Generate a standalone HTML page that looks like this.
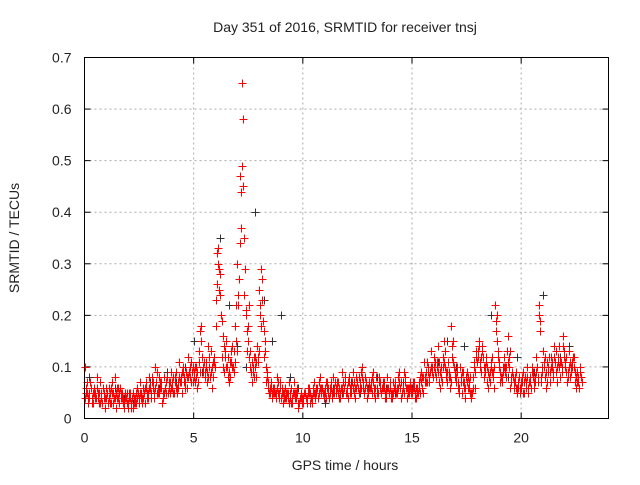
<!DOCTYPE html>
<html><head><meta charset="utf-8"><style>
body{margin:0;background:#fff;}
svg text{font-family:"Liberation Sans",sans-serif;font-size:14px;fill:#222;}
</style></head><body>
<svg id="chart" width="640" height="480" xmlns="http://www.w3.org/2000/svg">
<text x="345" y="32" text-anchor="middle">Day 351 of 2016, SRMTID for receiver tnsj</text>
<text x="345" y="470" text-anchor="middle">GPS time / hours</text>
<text transform="translate(19,238) rotate(-90)" text-anchor="middle">SRMTID / TECUs</text>
<g id="grid"></g>
<g id="ticks"></g>
<g id="grey"></g>
<g id="red"></g>
<rect x="84.5" y="57.5" width="524" height="361" fill="none" stroke="#000" stroke-width="1"/>
</svg>
<script>
const xTicks=[0,5,10,15,20];
const yTicks=[0,0.1,0.2,0.3,0.4,0.5,0.6,0.7];
const yTickLabels=["0","0.1","0.2","0.3","0.4","0.5","0.6","0.7"];
const redA=[0.10,0.05,0.04,0.06,0.03,0.05,0.04,0.07,0.03,0.05,
0.04,0.06,0.03,0.05,0.08,0.04,0.03,0.05,0.02,0.04,
0.03,0.05,0.02,0.04,0.06,0.03,0.05,0.04,0.07,0.05,
0.06,0.08,0.04,0.09,0.05,0.07,0.04,0.06,0.08,0.05,
0.07,0.05,0.09,0.06,0.08,0.10,0.07,0.06,0.09,0.11,
0.08,0.10,0.07,0.17,0.12,0.09,0.07,0.10,0.13,0.08,
0.23,0.33,0.28,0.12,0.09,0.15,0.07,0.13,0.10,0.18,
0.30,0.47,0.65,0.35,0.20,0.15,0.10,0.09,0.12,0.14,
0.25,0.29,0.17,0.10,0.07,0.05,0.04,0.06,0.08,0.05,
0.04,0.03,0.06,0.04,0.05,0.03,0.07,0.04,0.02,0.05,
0.03,0.05,0.04,0.06,0.03,0.07,0.05,0.04,0.08,0.06,
0.05,0.07,0.04,0.06,0.08,0.05,0.07,0.04,0.09,0.06,
0.06,0.08,0.05,0.09,0.04,0.07,0.06,0.10,0.05,0.07,
0.05,0.07,0.09,0.04,0.06,0.08,0.05,0.07,0.04,0.06,
0.06,0.04,0.07,0.05,0.09,0.04,0.06,0.08,0.05,0.07,
0.05,0.07,0.04,0.06,0.09,0.05,0.08,0.11,0.07,0.10,
0.12,0.08,0.14,0.06,0.10,0.13,0.07,0.09,0.18,0.11,
0.08,0.06,0.10,0.05,0.07,0.09,0.06,0.04,0.08,0.06,
0.13,0.11,0.14,0.08,0.12,0.06,0.10,0.09,0.22,0.15,
0.10,0.07,0.12,0.08,0.16,0.06,0.09,0.07,0.05,0.08,
0.06,0.09,0.07,0.05,0.08,0.10,0.06,0.12,0.22,0.07,
0.13,0.08,0.11,0.07,0.10,0.14,0.09,0.12,0.08,0.16,
0.10,0.07,0.13,0.09,0.12,0.06,0.08,0.10];
const redB=[0.06,0.03,0.07,0.04,0.05,0.08,0.03,0.04,0.06,0.02,
0.05,0.03,0.07,0.04,0.02,0.06,0.05,0.03,0.04,0.03,
0.05,0.02,0.04,0.03,0.05,0.07,0.03,0.06,0.04,0.08,
0.04,0.06,0.10,0.05,0.07,0.03,0.08,0.05,0.06,0.09,
0.05,0.08,0.06,0.11,0.05,0.07,0.09,0.12,0.08,0.07,
0.10,0.06,0.13,0.18,0.09,0.11,0.14,0.08,0.06,0.12,
0.32,0.25,0.20,0.16,0.13,0.08,0.11,0.14,0.09,0.22,
0.24,0.44,0.58,0.29,0.13,0.22,0.07,0.12,0.08,0.11,
0.20,0.27,0.13,0.08,0.05,0.07,0.06,0.04,0.05,0.07,
0.06,0.05,0.04,0.07,0.03,0.05,0.04,0.06,0.04,0.03,
0.05,0.04,0.06,0.03,0.05,0.04,0.06,0.07,0.05,0.04,
0.07,0.05,0.06,0.04,0.05,0.07,0.04,0.06,0.05,0.08,
0.04,0.06,0.07,0.05,0.08,0.05,0.09,0.06,0.08,0.04,
0.07,0.05,0.06,0.08,0.05,0.07,0.06,0.04,0.08,0.05,
0.04,0.07,0.05,0.08,0.06,0.05,0.09,0.04,0.06,0.05,
0.07,0.04,0.06,0.08,0.06,0.11,0.07,0.09,0.13,0.08,
0.09,0.11,0.07,0.10,0.15,0.08,0.11,0.06,0.12,0.08,
0.10,0.05,0.07,0.09,0.04,0.06,0.08,0.05,0.10,0.12,
0.15,0.09,0.12,0.10,0.07,0.09,0.12,0.06,0.19,0.12,
0.07,0.09,0.10,0.13,0.10,0.08,0.06,0.09,0.07,0.05,
0.08,0.05,0.10,0.07,0.06,0.09,0.08,0.07,0.19,0.10,
0.10,0.06,0.09,0.12,0.08,0.11,0.07,0.14,0.10,0.13,
0.12,0.09,0.08,0.11,0.07,0.09,0.06];
const redC=[0.04,0.07,0.05,0.03,0.06,0.04,0.05,0.03,0.06,0.04,
0.05,0.04,0.06,0.03,0.05,0.04,0.06,0.04,0.03,0.05,
0.04,0.03,0.05,0.03,0.04,0.05,0.04,0.05,0.06,0.04,
0.05,0.07,0.06,0.05,0.08,0.06,0.05,0.07,0.05,0.07,
0.06,0.07,0.05,0.08,0.07,0.09,0.06,0.08,0.10,0.09,
0.09,0.08,0.11,0.15,0.10,0.08,0.09,0.12,0.10,0.11,
0.18,0.30,0.24,0.10,0.12,0.10,0.09,0.11,0.13,0.15,
0.22,0.34,0.49,0.24,0.17,0.12,0.09,0.10,0.10,0.12,
0.22,0.23,0.12,0.07,0.06,0.06,0.05,0.05,0.06,0.04,
0.05,0.04,0.05,0.05,0.04,0.04,0.05,0.05,0.03,0.04,
0.04,0.04,0.05,0.05,0.04,0.05,0.06,0.05,0.06,0.05,
0.06,0.06,0.05,0.05,0.06,0.06,0.05,0.05,0.07,0.07,
0.05,0.07,0.06,0.07,0.06,0.06,0.07,0.08,0.06,0.06,
0.06,0.06,0.07,0.06,0.05,0.06,0.06,0.06,0.05,0.05,
0.05,0.05,0.06,0.06,0.07,0.05,0.05,0.06,0.06,0.06,
0.06,0.05,0.05,0.07,0.07,0.08,0.09,0.10,0.09,0.09,
0.10,0.10,0.11,0.08,0.12,0.10,0.09,0.08,0.14,0.10,
0.07,0.07,0.08,0.07,0.06,0.07,0.07,0.05,0.11,0.13,
0.12,0.10,0.13,0.09,0.10,0.08,0.11,0.08,0.17,0.13,
0.09,0.08,0.10,0.10,0.12,0.07,0.08,0.08,0.06,0.06,
0.07,0.07,0.06,0.06,0.07,0.08,0.07,0.10,0.20,0.08,
0.11,0.09,0.10,0.09,0.11,0.12,0.10,0.10,0.11,0.14,
0.11,0.08,0.11,0.10,0.10,0.08,0.07,0.08];
const redD=[0.05,0.04,0.06,0.05,0.04,0.06,0.05,0.05,0.04,0.06,
0.03,0.05,0.05,0.04,0.06,0.05,0.04,0.04,0.05,0.02,
0.04,0.04,0.03,0.05,0.04,0.04,0.06,0.03,0.05,0.06,
0.07,0.05,0.07,0.06,0.06,0.05,0.06,0.08,0.07,0.06,
0.08,0.06,0.07,0.07,0.09,0.08,0.08,0.09,0.07,0.10,
0.07,0.09,0.09,0.12,0.11,0.10,0.08,0.09,0.11,0.10,
0.26,0.29,0.19,0.14,0.10,0.12,0.08,0.10,0.11,0.13,
0.27,0.37,0.45,0.21,0.18,0.13,0.11,0.08,0.11,0.13,
0.18,0.19,0.15,0.09,0.06,0.05,0.05,0.05,0.07,0.06,
0.05,0.04,0.05,0.03,0.06,0.05,0.05,0.03,0.04,0.04,
0.05,0.03,0.05,0.04,0.06,0.05,0.04,0.06,0.06,0.05,
0.04,0.06,0.07,0.05,0.07,0.06,0.06,0.06,0.06,0.05,
0.07,0.05,0.06,0.06,0.07,0.08,0.06,0.07,0.07,0.05,
0.06,0.08,0.05,0.05,0.07,0.05,0.07,0.05,0.06,0.07,
0.05,0.06,0.05,0.06,0.07,0.06,0.07,0.06,0.05,0.06,
0.06,0.06,0.05,0.05,0.08,0.07,0.07,0.08,0.10,0.08,
0.11,0.09,0.09,0.07,0.11,0.09,0.08,0.07,0.15,0.09,
0.09,0.06,0.09,0.06,0.08,0.08,0.05,0.06,0.09,0.11,
0.14,0.12,0.10,0.11,0.09,0.07,0.09,0.10,0.20,0.11,
0.08,0.10,0.09,0.11,0.13,0.09,0.07,0.06,0.06,0.07,
0.05,0.08,0.08,0.07,0.09,0.07,0.09,0.08,0.17,0.09,
0.12,0.07,0.12,0.10,0.09,0.13,0.11,0.11,0.09,0.12,
0.09,0.10,0.10,0.12,0.09,0.07,0.09,0.07];
const grey=[0.08,0.05,0.04,0.06,0.04,0.03,0.05,0.07,0.06,0.09,
0.07,0.10,0.15,0.09,0.13,0.35,0.22,0.14,0.10,0.40,
0.23,0.15,0.20,0.08,0.06,0.04,0.05,0.03,0.06,0.05,
0.07,0.05,0.06,0.08,0.06,0.05,0.07,0.06,0.09,0.08,
0.11,0.15,0.10,0.14,0.08,0.13,0.20,0.10,0.08,0.12,
0.07,0.09,0.24,0.10,0.12,0.14];
const greyStep=0.4;
const x0=84.5,x1=608.5,y0=418.5,y1=57.5;
const xs=v=>x0+(v/24)*(x1-x0);
const ys=v=>y0-(v/0.7)*(y0-y1);
const NS="http://www.w3.org/2000/svg";
function el(t,a,p){const e=document.createElementNS(NS,t);for(const k in a)e.setAttribute(k,a[k]);p.appendChild(e);return e;}
const grid=document.getElementById('grid'),ticks=document.getElementById('ticks');
xTicks.forEach(t=>{const x=xs(t);
 if(t>0){const g=el('line',{x1:x,x2:x,y1:y1,y2:y0,stroke:'#aaa','stroke-dasharray':'2,3'},grid);
 
 }
 el('line',{x1:x,x2:x,y1:y0,y2:y0-6,stroke:'#000'},ticks);
 el('line',{x1:x,x2:x,y1:y1,y2:y1+6,stroke:'#000'},ticks);
 const tx=el('text',{x:x,y:y0+24,'text-anchor':'middle'},ticks);tx.textContent=t;
 
 
});
yTicks.forEach((t,i)=>{const y=ys(t);
 if(t>0&&t<0.7){const g=el('line',{x1:x0,x2:x1,y1:y,y2:y,stroke:'#aaa','stroke-dasharray':'2,3'},grid);
 
 }
 el('line',{x1:x0,x2:x0+6,y1:y,y2:y,stroke:'#000'},ticks);
 el('line',{x1:x1,x2:x1-6,y1:y,y2:y,stroke:'#000'},ticks);
 const tx=el('text',{x:x0-13,y:y+5,'text-anchor':'end'},ticks);tx.textContent=yTickLabels[i];
 
 
});
function plus(g,x,y,c){const p=el('path',{d:`M${x-4},${y}h8M${x},${y-4}v8`,stroke:c,'stroke-width':1,fill:'none'},g);
 
 }
const gg=document.getElementById('grey'),rg=document.getElementById('red');
grey.forEach((v,i)=>plus(gg,Math.round(xs(i*greyStep+0.2))+0.5,Math.round(ys(v))+0.5,'#333'));
redA.forEach((v,i)=>plus(rg,Math.round(xs(i*0.1))+0.5,Math.round(ys(v))+0.5,'#f00'));
redB.forEach((v,i)=>plus(rg,Math.round(xs(i*0.1+0.05))+0.5,Math.round(ys(v))+0.5,'#f00'));
redC.forEach((v,i)=>plus(rg,Math.round(xs(i*0.1+0.025))+0.5,Math.round(ys(v))+0.5,'#f00'));
redD.forEach((v,i)=>plus(rg,Math.round(xs(i*0.1+0.075))+0.5,Math.round(ys(v))+0.5,'#f00'));
</script>
</body></html>
